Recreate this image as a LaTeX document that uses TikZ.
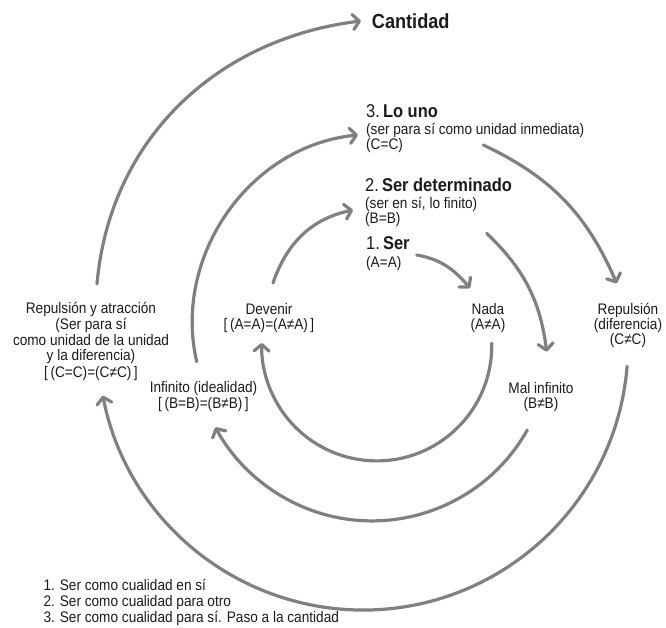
\documentclass[tikz,border=0pt]{standalone}
\usepackage{fontspec}
\setmainfont{Liberation Sans}[FakeStretch=0.89]
\usetikzlibrary{arrows.meta}
\definecolor{linegray}{HTML}{808080}
\definecolor{ink}{HTML}{1C1A1B}
\begin{document}
\begin{tikzpicture}[
  x=1pt, y=1pt,
  flow/.style={draw=linegray, line width=3.2pt, line cap=round,
    -{Straight Barb[length=6.5pt,width=15pt,round]}},
  lbl/.style={inner sep=0pt, text=ink, font=\fontsize{15.3}{16}\selectfont},
  hd/.style={inner sep=0pt, text=ink, font=\fontsize{18.5}{19}\selectfont},
  big/.style={inner sep=0pt, text=ink, font=\fontsize{20.4}{22}\selectfont\bfseries},
]
\useasboundingbox (0,0) rectangle (666,-628);

% ---- titles of the three moments (left aligned column) ----
\node[big, anchor=base west] (cantidad) at (371.7,-28.3) {Cantidad};

\node[hd,  anchor=base west] (louno)  at (366,-118)   {3.\,\textbf{Lo uno}};
\node[lbl, anchor=base west] (louno2) at (366,-135)   {(ser para sí como unidad inmediata)};
\node[lbl, anchor=base west] (louno3) at (366,-149.5) {(C=C)};

\node[hd,  anchor=base west] (serdet)  at (365,-191.5) {2.\,\textbf{Ser determinado}};
\node[lbl, anchor=base west] (serdet2) at (365,-208.5) {(ser en sí, lo finito)};
\node[lbl, anchor=base west] (serdet3) at (365,-224) {(B=B)};

\node[hd,  anchor=base west] (ser)  at (366,-250) {1.\,\textbf{Ser}};
\node[lbl, anchor=base west] (ser2) at (366,-268) {(A=A)};

% ---- stations on the circles ----
\node[lbl, anchor=base] (nada)  at (488,-314) {Nada};
\node[lbl, anchor=base] (nada2) at (488,-329) {(A≠A)};

\node[lbl, anchor=base] (rep)  at (628,-314) {Repulsión};
\node[lbl, anchor=base] (rep2) at (628,-329) {(diferencia)};
\node[lbl, anchor=base] (rep3) at (628,-344) {(C≠C)};

\node[lbl, anchor=base] (dev)  at (269,-314) {Devenir};
\node[lbl, anchor=base] (dev2) at (269,-329) {[\,(A=A)=(A≠A)\,]};

\node[lbl, anchor=base] (ra1) at (91,-313.5) {Repulsión y atracción};
\node[lbl, anchor=base] (ra2) at (91,-329)   {(Ser para sí};
\node[lbl, anchor=base] (ra3) at (91,-345)   {como unidad de la unidad};
\node[lbl, anchor=base] (ra4) at (91,-360.5) {y la diferencia)};
\node[lbl, anchor=base] (ra5) at (91,-377)   {[\,(C=C)=(C≠C)\,]};

\node[lbl, anchor=base] (inf)  at (203.5,-392) {Infinito (idealidad)};
\node[lbl, anchor=base] (inf2) at (203.5,-408) {[\,(B=B)=(B≠B)\,]};

\node[lbl, anchor=base] (mal)  at (541,-393) {Mal infinito};
\node[lbl, anchor=base] (mal2) at (541,-408) {(B≠B)};

% ---- legend ----
\node[lbl, anchor=base west] (leg1) at (43.3,-590) {1. Ser como cualidad en sí};
\node[lbl, anchor=base west] (leg2) at (43.3,-606) {2. Ser como cualidad para otro};
\node[lbl, anchor=base west] (leg3) at (43.3,-622) {3. Ser como cualidad para sí. Paso a la cantidad};

% ---- end points of the connectors ----
\coordinate (raTop)   at (97,-284);      \coordinate (cantL) at (361,-21);
\coordinate (infTop)  at (196.7,-361.7); \coordinate (unoL)  at (358,-135);
\coordinate (devTop)  at (273,-283);     \coordinate (detL)  at (353,-210);
\coordinate (serR)    at (416.7,-255);   \coordinate (nadaT) at (470,-288.3);
\coordinate (detR)    at (486.7,-233.3); \coordinate (malT)  at (546.7,-351.7);
\coordinate (unoR)    at (483.3,-145);   \coordinate (repT)  at (616.7,-283.3);
\coordinate (nadaB)   at (491.7,-343.3);
\coordinate (malB)    at (527.3,-430);
\coordinate (repB)    at (627.1,-366.3);

% upper arcs: each moment rises to the next
\draw[flow] (raTop)  to[out=85,  in=187]   (cantL);
\draw[flow] (infTop) to[out=103, in=185.6] (unoL);
\draw[flow] (devTop) to[out=71,  in=192]   (detL);

% right side: the moment passes into its other
\draw[flow] (serR) to[out=-10,   in=130]   (nadaT);
\draw[flow] (detR) to[out=-43.8, in=97.4]  (malT);
\draw[flow] (unoR) to[out=-25.3, in=113.5] (repT);

% lower arcs: return to the unity of both
\draw[flow] (nadaB) arc[start angle=1.3,   end angle=-181.5, radius=115];
\draw[flow] (malB)  arc[start angle=-29.3, end angle=-151.7, radius=178];
\draw[flow] (repB)  arc[start angle=-4.6,  end angle=-169,   radius=265];
\end{tikzpicture}
\end{document}
